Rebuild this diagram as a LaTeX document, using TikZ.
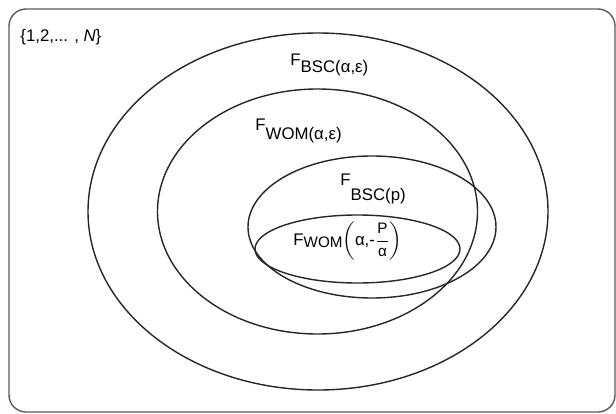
\documentclass[tikz,border=0pt]{standalone}
\usepackage{amsmath}
\usepackage{fontspec}
\setmainfont{Liberation Sans}
\tikzset{
  setline/.style  = {black!85, line width=0.7pt},
  boxline/.style  = {black!65, line width=0.7pt, rounded corners=8.5pt},
  lbl/.style      = {font=\fontsize{8.4}{10}\selectfont, inner sep=0pt, anchor=base west},
}
\newcommand{\lowsub}[2]{\raisebox{-#1}{#2}}
\newcommand{\fracpart}[1]{\text{\fontsize{7.6}{8}\selectfont #1}}

\begin{document}
\begin{tikzpicture}[x=0.5pt, y=-0.5pt]
  \useasboundingbox (0,0) rectangle (616,413);
  \draw[boxline] (9,9) rectangle (615,412);
  % nested sets
  \draw[setline] (318,211.5) ellipse [x radius=230, y radius=178.5];
  \draw[setline] (317.5,211.5) ellipse [x radius=160, y radius=122.5];
  \draw[setline] (372,227) ellipse [x radius=124, y radius=71];
  \draw[setline] (357.5,249) ellipse [x radius=102.5, y radius=34];
  \node[lbl] (univ)   at (20,41.5) {\{1,2,... , \textit{N}\}};
  \node[lbl] (fbscae) at (290,65)  {F\lowsub{3.5pt}{BSC(α,ε)}};
  \node[lbl] (fwomae) at (255,130) {F\lowsub{4.5pt}{WOM(α,ε)}};
  \node[lbl] (fbscp)  at (340,185) {F\lowsub{7.5pt}{BSC(p)}};
  \node[lbl] (fwomp)  at (293,245)
    {F\lowsub{1pt}{\fontsize{7.6}{8}\selectfont WOM}$\left(\text{α,-}\dfrac{\fracpart{P}}{\fracpart{α}}\right)$};
\end{tikzpicture}
\end{document}
